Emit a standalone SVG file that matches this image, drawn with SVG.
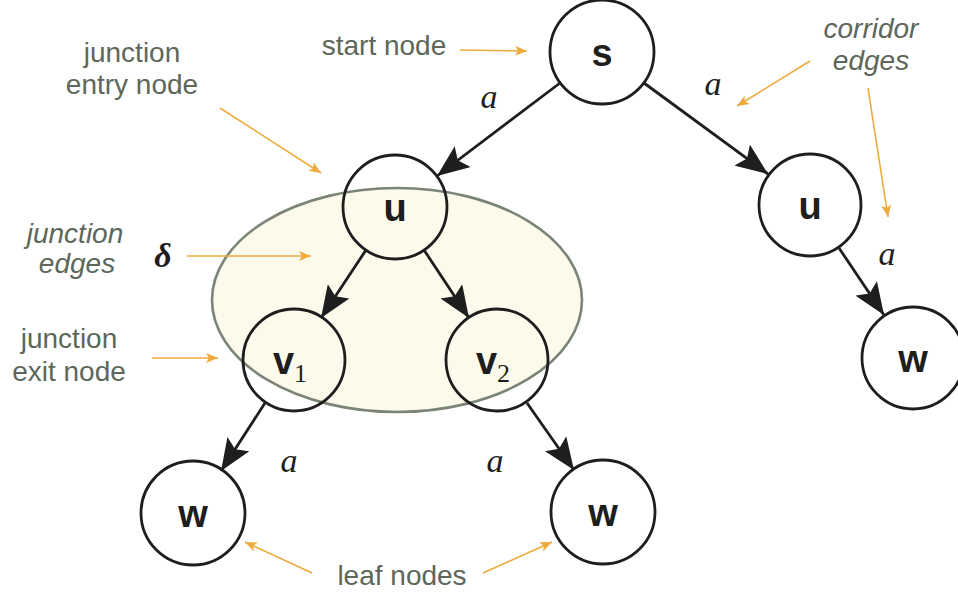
<svg xmlns="http://www.w3.org/2000/svg" width="958" height="596" viewBox="0 0 958 596">
  <defs>
    <marker id="edgeHead" viewBox="0 0 32 26" refX="32" refY="13" markerWidth="32" markerHeight="26" markerUnits="userSpaceOnUse" orient="auto">
      <path d="M0,0 L32,13 L0,26 L6,13 Z" fill="#1e1e1e"/>
    </marker>
    <marker id="noteHead" viewBox="0 0 12 10" refX="12" refY="5" markerWidth="12" markerHeight="10" markerUnits="userSpaceOnUse" orient="auto">
      <path d="M0,0 L12,5 L0,10 L3,5 Z" fill="#eeaa3c"/>
    </marker>
  </defs>
  <style>
    .node circle { fill: none; stroke: #1e1e1e; stroke-width: 2.8; }
    .node text { font-family: "Liberation Sans", Arial, sans-serif; font-weight: bold; font-size: 38px; fill: #1e1e1e; text-anchor: middle; }
    .node text .sub { font-family: "Liberation Serif", "Times New Roman", serif; font-weight: normal; font-size: 26px; }
    .edge { stroke: #1e1e1e; stroke-width: 2.8; fill: none; marker-end: url(#edgeHead); }
    .note { stroke: #eeaa3c; stroke-width: 1.6; fill: none; marker-end: url(#noteHead); }
    .lbl { font-family: "Liberation Serif", "Times New Roman", serif; font-style: italic; font-size: 34px; fill: #1e1e1e; text-anchor: middle; }
    .ann { font-family: "Liberation Sans", Arial, sans-serif; font-size: 28px; fill: #5d675a; text-anchor: middle; }
    .ann.it { font-style: italic; }
  </style>
  <rect width="958" height="596" fill="#ffffff"/>

  <!-- junction region, drawn beneath the nodes it encloses -->
  <g id="junction">
    <ellipse cx="397" cy="300" rx="185" ry="112" fill="#fcfaea" stroke="#7a8577" stroke-width="2.6"/>
  </g>

  <!-- tree nodes -->
  <g id="node-s" class="node"><circle cx="602" cy="52" r="52"/><text x="602" y="66">s</text></g>
  <g id="node-u-left" class="node"><circle cx="395" cy="207" r="52"/><text x="395" y="221">u</text></g>
  <g id="node-u-right" class="node"><circle cx="810" cy="205" r="51"/><text x="810" y="219">u</text></g>
  <g id="node-v1" class="node"><circle cx="294" cy="360" r="51"/><text x="290" y="374">v<tspan class="sub" dy="8">1</tspan></text></g>
  <g id="node-v2" class="node"><circle cx="497" cy="360" r="51"/><text x="493" y="374">v<tspan class="sub" dy="8">2</tspan></text></g>
  <g id="node-w-left" class="node"><circle cx="193" cy="513" r="52"/><text x="193" y="527">w</text></g>
  <g id="node-w-mid" class="node"><circle cx="603" cy="512" r="52"/><text x="603" y="526">w</text></g>
  <g id="node-w-right" class="node"><circle cx="913" cy="358" r="51"/><text x="913" y="372">w</text></g>

  <!-- tree edges -->
  <g id="edges">
    <line class="edge" x1="560" y1="83" x2="437" y2="176"/>
    <line class="edge" x1="644" y1="83" x2="768" y2="174"/>
    <line class="edge" x1="366" y1="250" x2="321" y2="318"/>
    <line class="edge" x1="424" y1="250" x2="469" y2="318"/>
    <line class="edge" x1="265" y1="403" x2="221" y2="471"/>
    <line class="edge" x1="527" y1="403" x2="574" y2="470"/>
    <line class="edge" x1="839" y1="248" x2="884" y2="315"/>
  </g>

  <!-- edge labels -->
  <g id="edge-labels">
    <text class="lbl" x="489" y="108">a</text>
    <text class="lbl" x="713" y="95">a</text>
    <text class="lbl" x="887" y="265">a</text>
    <text class="lbl" x="289" y="472">a</text>
    <text class="lbl" x="495" y="472">a</text>
    <text class="lbl" x="163" y="267" font-weight="bold">δ</text>
  </g>

  <!-- annotations -->
  <g id="annotations">
    <text class="ann" x="384" y="55">start node</text>
    <text class="ann" x="132" y="62">junction</text>
    <text class="ann" x="132" y="94">entry node</text>
    <text class="ann it" x="75" y="243">junction</text>
    <text class="ann it" x="77" y="273">edges</text>
    <text class="ann" x="69" y="348">junction</text>
    <text class="ann" x="69" y="381">exit node</text>
    <text class="ann it" x="871" y="38">corridor</text>
    <text class="ann it" x="871" y="70">edges</text>
    <text class="ann" x="402" y="585">leaf nodes</text>

    <line class="note" x1="460" y1="50" x2="527" y2="51"/>
    <line class="note" x1="220" y1="108" x2="321" y2="173"/>
    <line class="note" x1="187" y1="256" x2="311" y2="256"/>
    <line class="note" x1="152" y1="358" x2="218" y2="358"/>
    <line class="note" x1="810" y1="61" x2="737" y2="106"/>
    <line class="note" x1="868" y1="88" x2="888" y2="217"/>
    <line class="note" x1="312" y1="573" x2="245" y2="542"/>
    <line class="note" x1="483" y1="573" x2="552" y2="542"/>
  </g>
</svg>
